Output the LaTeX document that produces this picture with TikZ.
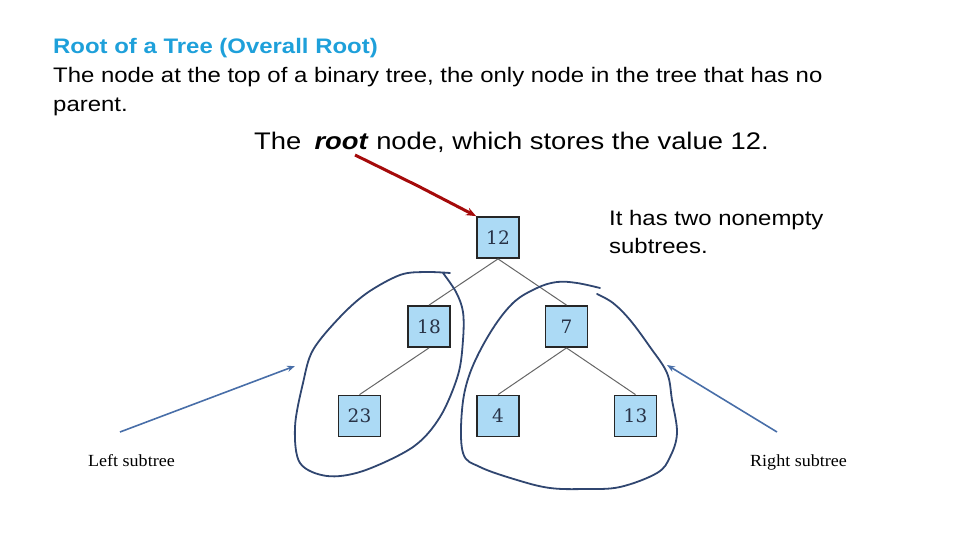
\documentclass[tikz,border=0pt]{standalone}
\usepackage{fontspec}
\setmainfont{Liberation Sans}[FakeStretch=1.14]
\newfontfamily\timesfont{Liberation Serif}[FakeStretch=1.06]
\newfontfamily\boxfont{DejaVu Serif}
\usepackage{tikz}
\usetikzlibrary{positioning,arrows.meta,calc}
\usepackage{xcolor}
\definecolor{titleblue}{RGB}{30,160,218}
\definecolor{boxfill}{RGB}{172,218,245}
\definecolor{boxtext}{RGB}{40,50,70}
\definecolor{loopblue}{RGB}{48,70,112}
\definecolor{arrowblue}{RGB}{72,110,168}
\definecolor{rootred}{RGB}{165,10,10}

\begin{document}
\begin{tikzpicture}[
    x=1pt, y=-1pt,
    n/.style ={
        rectangle,
        draw=black!85,
        line width=1.8pt,
        fill=boxfill,
        text=boxtext,
        minimum width=42pt,
        minimum height=41pt,
        inner sep=0pt,
        font=\boxfont\fontsize{18.5}{18}\selectfont
    },
    txt/.style ={
        anchor=base west,
        inner sep=0pt,
        font=\fontsize{21}{24}\selectfont
    },
    edge/.style ={
        draw=black!60,
        line width=1pt
    },
    loop/.style ={
        draw=loopblue,
        line width=1.8pt,
        line join=round,
        line cap=round
    },
    pointer/.style ={
        draw=arrowblue,
        line width=1.6pt,
        -{Stealth[length=8pt,width=6pt]}
    }
    ]
    \useasboundingbox (0,0) rectangle (960,540);

    % texts
    \node[txt, text=titleblue, font=\bfseries\fontsize{21}{24}\selectfont] (title) at (53,54) {Root of a Tree (Overall Root)};
    \node[txt] (def1) at (53,83) {The node at the top of a binary tree, the only node in the tree that has no};
    \node[txt] (def2) at (53,112) {parent.};
    \node[txt, font=\fontsize{24}{28}\selectfont] (rootlabel) at (254,150) {The\hspace{0.55em}\textbf{\textit{root}} node, which stores the value 12.};
    \node[txt] (two1) at (609,225) {It has two nonempty};
    \node[txt] (two2) at (609,253) {subtrees.};
    \node[txt, font=\timesfont\fontsize{17}{18}\selectfont] (leftlabel) at (88,466) {Left subtree};
    \node[txt, font=\timesfont\fontsize{17}{18}\selectfont] (rightlabel) at (750,466) {Right subtree};

    % tree
    \foreach \x/ \pos in {{12/(498,237.5)}, {18/(429,326.5)}, {7/(566.5,326.5)},
                          {23/(359.5,416)}, {4/(498,416)}, {13/(635.5,416)}}
        \node[n] (n\x) at \pos {\x};

    \foreach \src/ \dst in {12/18, 12/7, 18/23, 7/4, 7/13}
        \draw[edge] (n\src.south) -- (n\dst.north);

    % root pointer
    \coordinate (rootTail) at (355,155);
    \draw[draw=rootred, line width=3pt, -{Stealth[length=10pt,width=8pt]}]
        (rootTail) -- (418,186) -- (n12.north west);

    % subtree loops
    \draw[loop] plot[smooth, tension=0.55] coordinates {(450,273) (425,272) (400,275) (367,293)
        (340,317) (313,350) (303,383) (295,427) (300,463) (327,476) (363,471) (413,447)
        (440,417) (458,375) (463,340) (463,312) (456,292) (443,273)};
    \draw[loop] plot[smooth, tension=0.6] coordinates {(600,288) (577,283) (557,282) (537,288)
        (513,303) (490,333) (470,373) (462,410) (463,453) (480,467) (517,480) (550,488)
        (585,489) (620,487) (657,473) (670,457) (677,433) (672,400) (667,373) (650,347)
        (630,320) (613,303) (597,294)};

    % subtree pointers
    \coordinate (leftTail) at (120,432);
    \coordinate (leftTip) at (295,366);
    \coordinate (rightTail) at (777,432);
    \coordinate (rightTip) at (667,365);
    \draw[pointer] (leftTail) -- (leftTip);
    \draw[pointer] (rightTail) -- (rightTip);
\end{tikzpicture}
\end{document}
